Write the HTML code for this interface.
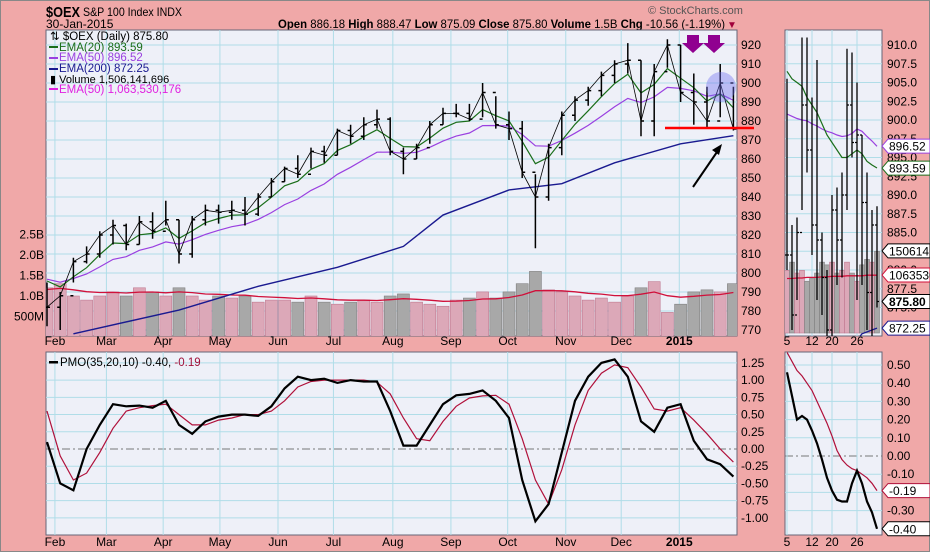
<!DOCTYPE html>
<html><head><meta charset="utf-8"><style>
body{margin:0;background:#f0a8a8;}
svg{display:block;font-family:"Liberation Sans",sans-serif;}
</style></head><body>
<svg id="chart" width="930" height="552" viewBox="0 0 930 552" xmlns="http://www.w3.org/2000/svg">
<rect x="0.5" y="0.5" width="929" height="551" fill="#f0a8a8" stroke="#888"/>
<defs>
<clipPath id="cMain"><rect x="46" y="30" width="691" height="306"/></clipPath>
<clipPath id="cPmo"><rect x="46" y="352" width="691" height="183"/></clipPath>
<clipPath id="cRT"><rect x="785" y="30" width="97" height="306"/></clipPath>
<clipPath id="cRB"><rect x="785" y="352" width="97" height="183"/></clipPath>
</defs>
<g>
<text x="46" y="17" font-size="15" font-weight="bold" textLength="34" lengthAdjust="spacingAndGlyphs">$OEX</text>
<text x="83" y="16" font-size="12" textLength="99" lengthAdjust="spacingAndGlyphs">S&amp;P 100 Index  INDX</text>
<text x="46" y="28" font-size="12">30-Jan-2015</text>
<text x="278" y="28" font-size="12" textLength="447" lengthAdjust="spacingAndGlyphs"><tspan font-weight="bold">Open</tspan> 886.18  <tspan font-weight="bold">High</tspan> 888.47  <tspan font-weight="bold">Low</tspan> 875.09  <tspan font-weight="bold">Close</tspan> 875.80  <tspan font-weight="bold">Volume</tspan> 1.5B  <tspan font-weight="bold">Chg</tspan> -10.56 (-1.19%)</text>
<text x="727" y="28" font-size="10" fill="#a0003a">▼</text>
<text x="648" y="14" font-size="11" fill="#555">© StockCharts.com</text>
</g>
<rect x="46" y="30" width="691" height="306" fill="#eef0f8" stroke="#667"/>
<rect x="46" y="352" width="691" height="183" fill="#eef0f8" stroke="#667"/>
<rect x="785" y="30" width="97" height="306" fill="#eef0f8" stroke="#667"/>
<rect x="785" y="352" width="97" height="183" fill="#eef0f8" stroke="#667"/>
<g id="grid"></g>
<g id="vol" clip-path="url(#cMain)"></g>
<g id="price" clip-path="url(#cMain)"></g>
<g id="pmo" clip-path="url(#cPmo)"></g>
<g id="rvol" clip-path="url(#cRT)"></g>
<g id="rprice" clip-path="url(#cRT)"></g>
<g id="rpmo" clip-path="url(#cRB)"></g>
<g id="labels" font-size="12"></g>
<g font-size="11.5">
<text x="50" y="40" fill="#000">⇅ $OEX (Daily) 875.80</text>
<rect x="49" y="46" width="9" height="2" fill="#1a6e1a"/><text x="59" y="51" fill="#1a6e1a">EMA(20) 893.59</text>
<rect x="49" y="57" width="9" height="2" fill="#9a40e0"/><text x="59" y="61" fill="#9a40e0">EMA(50) 896.52</text>
<rect x="49" y="68" width="9" height="2" fill="#1a1a90"/><text x="59" y="72" fill="#1a1a90">EMA(200) 872.25</text>
<text x="50" y="83" fill="#000" font-size="11">▮ Volume 1,506,141,696</text>
<rect x="49" y="88" width="9" height="2" fill="#e020e0"/><text x="59" y="93" fill="#e020e0">EMA(50) 1,063,530,176</text>
<rect x="49" y="361" width="9" height="2.5" fill="#000"/><text x="60" y="366" fill="#000">PMO(35,20,10) -0.40, <tspan fill="#a0103a">-0.19</tspan></text>
</g>
<g>
<path d="M687 35h12v8h5l-11 10l-11-10h5z" fill="#900090"/>
<path d="M708 35h12v8h5l-11 10l-11-10h5z" fill="#900090"/>
<circle cx="721" cy="87" r="15" fill="rgba(110,110,240,0.4)"/>
<line x1="665" y1="128" x2="754" y2="128" stroke="#f00" stroke-width="2.5"/>
<line x1="693" y1="187" x2="717" y2="152" stroke="#000" stroke-width="2"/>
<path d="M722 144l-10 6l7 5z" fill="#000"/>
</g>
</svg>
<script>
// ---- data (weekly, Jan 27 2014 .. Jan 26 2015) ----
const weekHigh=[795,790,808,814,822,828,826,830,832,838,828,830,836,836,838,840,842,850,856,862,866,867,876,878,882,886,882,866,868,880,887,889,889,900,893,885,880,852,868,885,893,898,906,912,921,912,910,923,920,905,898,910,898];
const weekLow=[772,770,795,805,808,815,812,815,818,825,805,808,825,826,828,825,830,840,848,850,855,858,862,868,870,876,862,852,860,868,878,882,880,882,876,870,850,813,838,862,880,888,893,900,905,872,872,908,890,878,876,882,875];
const weekClose=[782,788,806,810,820,825,815,827,822,828,810,828,833,832,833,831,840,848,855,852,864,862,875,872,878,881,864,860,866,878,884,884,881,895,878,876,853,840,866,883,891,896,904,910,912,880,906,920,895,890,880,900,875.8];
const weekVolume=[1.2,1.3,1.0,0.9,1.0,1.1,1.0,1.2,1.1,1.0,1.2,1.0,0.9,1.0,0.95,1.0,0.85,0.9,0.9,0.85,1.0,0.85,0.8,0.85,0.9,0.85,1.0,1.05,0.85,0.8,0.75,0.9,0.95,1.1,0.95,1.1,1.3,1.6,1.15,1.1,1.0,0.9,0.95,0.85,1.0,1.2,1.35,0.6,0.8,1.1,1.15,1.1,1.3];
const ema200Weeks=[2,10,16,22,27,30,35,39,43,48,52];
const ema200Values=[768,780.5,793,803,814,830.5,843.7,847,858,868,872.25];
const pmoValues=[0.1,-0.5,-0.6,0.0,0.35,0.65,0.62,0.63,0.6,0.7,0.35,0.22,0.4,0.47,0.5,0.5,0.48,0.62,0.88,1.05,1.0,1.02,0.96,1.0,0.98,0.98,0.55,0.05,0.05,0.35,0.65,0.78,0.8,0.85,0.7,0.45,-0.45,-1.05,-0.8,-0.05,0.7,1.05,1.25,1.3,1.05,0.4,0.25,0.6,0.65,0.12,-0.15,-0.22,-0.4];
const pmoSignal=[0.55,-0.1,-0.45,-0.35,-0.05,0.3,0.55,0.6,0.63,0.65,0.5,0.35,0.35,0.42,0.45,0.5,0.5,0.55,0.7,0.9,0.98,1.0,1.0,1.0,1.0,0.97,0.8,0.45,0.15,0.12,0.4,0.62,0.74,0.77,0.78,0.65,0.15,-0.45,-0.8,-0.3,0.35,0.85,1.1,1.22,1.18,0.9,0.58,0.55,0.6,0.42,0.22,0.0,-0.19];
const priceTicks=[920,910,900,890,880,870,860,850,840,830,820,810,800,790,780,770];
const volTicks=[2.5,2.0,1.5,1.0,0.5];
const volTickLabels=["2.5B","2.0B","1.5B","1.0B","500M"];
const pmoTicks=[1.25,1.0,0.75,0.5,0.25,0.0,-0.25,-0.5,-0.75,-1.0];
const monthLabels=["Feb","Mar","Apr","May","Jun","Jul","Aug","Sep","Oct","Nov","Dec","2015"];
const monthWeek=[0.6,4.5,8.8,13.1,17.5,21.7,26.2,30.6,34.9,39.3,43.5,47.9];
// ---- January 2015 zoom (daily) ----
const janDays=["5","12","20","26"];
const janDayIndex=[0,5,9,14];
const janHigh=[905.5,886,887,911,911,903,908,885,880,890,891,893,909.5,909,905,898,893,888,888.5];
const janLow=[880,872,876,888,893,882,876,874,870,871,878,879,888,895,876,878,872,871,875];
const janClose=[882,874,885,902,896,886,884,879,872,888,884,890,902,897,898,889,877,886,875.8];
const janVolume=[1.15,1.3,1.1,1.15,0.95,1.0,1.1,1.3,1.25,1.3,1.1,1.15,1.3,1.1,0.95,1.25,1.35,1.3,1.5];
const janVolEma=[1.0,1.0,1.01,1.01,1.02,1.02,1.02,1.03,1.03,1.04,1.04,1.04,1.05,1.05,1.05,1.05,1.06,1.06,1.06];
const janEma20=[906.5,905.5,905,904.5,903,902,901,899.5,898,897,896,895,895,895.5,896,895.5,894.5,894,893.6];
const janEma50=[900.8,900.5,900.2,900,899.9,899.5,899.2,898.8,898.5,898.3,898,897.8,897.9,898.2,898.8,898.5,897.8,897.2,896.5];
const janEma200Days=[12,15,18];
const janEma200=[869,871.5,872.25];
const janPmo=[0.46,0.33,0.2,0.22,0.2,0.14,0.07,-0.02,-0.12,-0.19,-0.24,-0.25,-0.25,-0.15,-0.08,-0.15,-0.25,-0.31,-0.4];
const janSignal=[0.57,0.52,0.47,0.44,0.4,0.36,0.3,0.24,0.18,0.11,0.03,-0.02,-0.05,-0.07,-0.08,-0.1,-0.12,-0.15,-0.19];
const rPriceTicks=[910,907.5,905,902.5,900,897.5,895,892.5,890,887.5,885,882.5,880,877.5,875];
const rPmoTicks=[0.5,0.4,0.3,0.2,0.1,0.0,-0.1,-0.2,-0.3];

// ---- scales ----
const xw=i=>47+13.2*i, py=p=>45+(920-p)*1.9, vy=v=>337-v*41, pmy=v=>449-v*68.9;
const rx=d=>787+5*d, ry=p=>45+(910-p)*7.5, rvy=v=>333-v*54.5, rpy=v=>456-v*182;
const NS="http://www.w3.org/2000/svg";
function mk(parent,tag,attrs){const e=document.createElementNS(NS,tag);for(const k in attrs)e.setAttribute(k,attrs[k]);document.getElementById(parent).appendChild(e);return e;}
function pts(arr,fx,fy){return arr.map((v,i)=>fx(i).toFixed(1)+","+fy(v).toFixed(1)).join(" ");}
function ema(arr,alpha,seed){let e=seed;return arr.map(v=>(e=e+alpha*(v-e)));}
const GC="#b0dde8";
priceTicks.forEach(t=>{const l=mk("grid","line",{x1:46,x2:737,y1:py(t),y2:py(t),stroke:GC});


const tx=mk("labels","text",{x:741,y:py(t)+4});tx.textContent=t;

});
pmoTicks.forEach(t=>{const l=mk("grid","line",{x1:46,x2:737,y1:pmy(t),y2:pmy(t),stroke:t===0?"#777":GC,"stroke-dasharray":t===0?"8,3,2,3":"none"});


const tx=mk("labels","text",{x:741,y:pmy(t)+4});tx.textContent=t.toFixed(2);

});
volTicks.forEach((t,i)=>{const tx=mk("labels","text",{x:44,y:vy(t)+4,"text-anchor":"end"});tx.textContent=volTickLabels[i];

});
monthLabels.forEach((m,i)=>{const x=xw(monthWeek[i]);
[[30,336],[352,535]].forEach(r=>{const l=mk("grid","line",{x1:x,x2:x,y1:r[0],y2:r[1],stroke:GC});

});
[345,546].forEach(y=>{const tx=mk("labels","text",{x:x,y:y,"text-anchor":"middle","font-weight":m==="2015"?"bold":"normal"});tx.textContent=m;

});});
rPriceTicks.forEach(t=>{const l=mk("grid","line",{x1:785,x2:882,y1:ry(t),y2:ry(t),stroke:GC});


const tx=mk("labels","text",{x:887,y:ry(t)+4});tx.textContent=t.toFixed(1);

});
rPmoTicks.forEach(t=>{const l=mk("grid","line",{x1:785,x2:882,y1:rpy(t),y2:rpy(t),stroke:t===0?"#777":GC,"stroke-dasharray":t===0?"8,3,2,3":"none"});


const tx=mk("labels","text",{x:887,y:rpy(t)+4});tx.textContent=t.toFixed(2);

});
janDays.forEach((d,i)=>{const x=rx(janDayIndex[i]);
[[30,336],[352,535]].forEach(r=>{const l=mk("grid","line",{x1:x,x2:x,y1:r[0],y2:r[1],stroke:GC});

});
[345,546].forEach(y=>{const tx=mk("labels","text",{x:x,y:y,"text-anchor":"middle"});tx.textContent=d;

});});
weekVolume.forEach((v,i)=>{const up=i===0||weekClose[i]>=weekClose[i-1];
const b=mk("vol","rect",{x:xw(i)-6,y:vy(v),width:12,height:337-vy(v),fill:up?"#dca8b8":"#a8a8a8",stroke:up?"#c07890":"#808080","stroke-width":0.6});

});
const vEma=mk("vol","polyline",{points:pts(ema(weekVolume,2/11,1.15),xw,vy),fill:"none",stroke:"#d0103a","stroke-width":1.3});


const e200=mk("price","polyline",{points:ema200Values.map((v,i)=>xw(ema200Weeks[i])+","+py(v)).join(" "),fill:"none",stroke:"#1a1a90","stroke-width":1.4});


const e50=mk("price","polyline",{points:pts(ema(weekClose,2/11,800),xw,py),fill:"none",stroke:"#9a40e0","stroke-width":1.2});


const e20=mk("price","polyline",{points:pts(ema(weekClose,0.4,805),xw,py),fill:"none",stroke:"#1a6e1a","stroke-width":1.2});


const cl=mk("price","polyline",{points:pts(weekClose,xw,py),fill:"none",stroke:"#000","stroke-width":0.8});


weekClose.forEach((c,i)=>{const x=xw(i),o=i?weekClose[i-1]:c;
const b=mk("price","path",{d:`M${x} ${py(weekHigh[i])}V${py(weekLow[i])}M${x-3} ${py(o)}H${x}M${x} ${py(c)}H${x+3}`,stroke:"#000","stroke-width":1.5,fill:"none"});

});
const ps=mk("pmo","polyline",{points:pts(pmoSignal,xw,pmy),fill:"none",stroke:"#b0103a","stroke-width":1.2});


const pl=mk("pmo","polyline",{points:pts(pmoValues,xw,pmy),fill:"none",stroke:"#000","stroke-width":2.2});


janVolume.forEach((v,i)=>{const up=i===0||janClose[i]>=janClose[i-1];
const b=mk("rvol","rect",{x:rx(i)-2.5,y:rvy(v),width:5,height:333-rvy(v),fill:up?"#dca8b8":"#a8a8a8",stroke:up?"#c07890":"#808080","stroke-width":0.6});

});
const rve=mk("rvol","polyline",{points:pts(janVolEma,rx,rvy),fill:"none",stroke:"#d0103a","stroke-width":1.3});


const r200=mk("rprice","polyline",{points:janEma200.map((v,i)=>rx(janEma200Days[i])+","+ry(v)).join(" "),fill:"none",stroke:"#1a1a90","stroke-width":1.3});


const r50=mk("rprice","polyline",{points:pts(janEma50,rx,ry),fill:"none",stroke:"#9a40e0","stroke-width":1.2});


const r20=mk("rprice","polyline",{points:pts(janEma20,rx,ry),fill:"none",stroke:"#1a6e1a","stroke-width":1.2});


janClose.forEach((c,i)=>{const x=rx(i),o=i?janClose[i-1]:c;
const b=mk("rprice","path",{d:`M${x} ${ry(janHigh[i])}V${ry(janLow[i])}M${x-2} ${ry(o)}H${x}M${x} ${ry(c)}H${x+2}`,stroke:"#000","stroke-width":1.3,fill:"none"});

});
const rs=mk("rpmo","polyline",{points:pts(janSignal,rx,rpy),fill:"none",stroke:"#b0103a","stroke-width":1.2});


const rp=mk("rpmo","polyline",{points:pts(janPmo,rx,rpy),fill:"none",stroke:"#000","stroke-width":2.2});


const tags=[[ry(896.52),"896.52","#9a40e0",false],[ry(893.59),"893.59","#1a6e1a",false],[rvy(1.506),"1506141","#000",false],[rvy(1.0635),"1063530","#d0103a",false],[ry(875.8),"875.80","#000",true],[ry(872.25),"872.25","#1a1a90",false],[rpy(-0.19),"-0.19","#b0103a",false],[rpy(-0.4),"-0.40","#000",false]];
tags.forEach(t=>{const g=mk("labels","g",{});


const p=document.createElementNS(NS,"path");p.setAttribute("d",`M882 ${t[0]}l6 -7h42v14h-42z`);p.setAttribute("fill","#fff");p.setAttribute("stroke",t[2]);g.appendChild(p);
const tx=document.createElementNS(NS,"text");tx.setAttribute("x",889);tx.setAttribute("y",t[0]+4.5);tx.setAttribute("font-size","12");if(t[3])tx.setAttribute("font-weight","bold");tx.textContent=t[1];g.appendChild(tx);});
</script>
</body></html>
